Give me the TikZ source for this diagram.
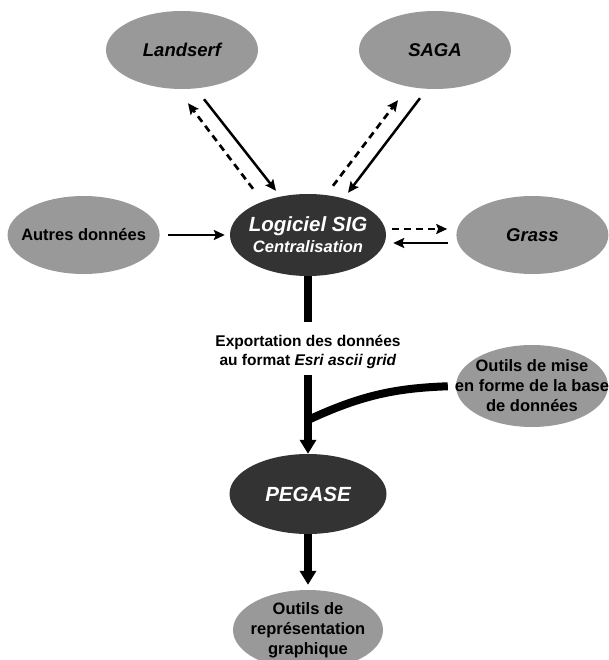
\documentclass[tikz,border=0pt]{standalone}
\usepackage{fontspec}
\setmainfont{Liberation Sans}
\usepackage{xcolor}
\usepackage{tikz}
\usetikzlibrary{arrows,arrows.meta,shapes.geometric,positioning}

\definecolor{gris}{HTML}{999999}
\definecolor{anthracite}{HTML}{333333}
\newcommand{\fnormal}{\fontsize{16.5}{20}\selectfont}
\newcommand{\fmoyen}{\fontsize{18.5}{22}\selectfont}
\newcommand{\fgrand}{\fontsize{20.5}{24}\selectfont}

\begin{document}
\begin{tikzpicture}[x=1pt,y=-1pt,>={Stealth[length=11pt,width=10pt,inset=2pt]},font=\bfseries\fnormal,
  clair/.style={ellipse,fill=gris,minimum width=152pt,minimum height=78pt,inner sep=0pt},
  sombre/.style={ellipse,fill=anthracite,minimum width=156pt,minimum height=82pt,inner sep=0pt},
  every label/.style={align=center},
  fleche/.style={line width=2.5pt},
  tirets/.style={line width=2.7pt,dash pattern=on 7pt off 5pt},
  epais/.style={line width=8pt},
  grosse/.style={line width=8pt,-{Triangle[width=16pt,length=14pt]}}]
  \clip (0,0) rectangle (609,660);

  % les logiciels
  \node[sombre,label={[white]center:{\fgrand\itshape Logiciel SIG}\\[1pt]{\itshape Centralisation}}] (sig) at (308,235) {};
  \node[clair,label={center:{\fmoyen\itshape Landserf}}] (lan) at (182,50) {};
  \node[clair,label={center:{\fmoyen\itshape SAGA}}] (saga) at (435,50) {};
  \node[clair,label={center:Autres données}] [left=70pt of sig] (autres) {};
  \node[clair,label={center:{\fmoyen\itshape Grass}}] [right=70pt of sig] (grass) {};

  \path[->] ([shift={(22,10)}]lan.south) edge[fleche] ([shift={(-32,-3)}]sig.north)
        ([shift={(-55,-5)}]sig.north) edge[tirets] ([shift={(6,14)}]lan.south)
        ([shift={(-15,9)}]saga.south) edge[fleche] ([shift={(40,-1)}]sig.north)
        ([shift={(25,-8)}]sig.north) edge[tirets] ([shift={(-37,11)}]saga.south)
        (autres) edge[fleche,shorten <=8pt,shorten >=5pt] (sig)
        ([shift={(6,-6)}]sig.east) edge[tirets] ([shift={(-9,-6)}]grass.west)
        ([shift={(-8,8)}]grass.west) edge[fleche] ([shift={(7,8)}]sig.east);

  % export vers PEGASE
  \node[align=center,font=\bfseries\fontsize{15.5}{19}\selectfont] (export) at (308,352) {Exportation des données\\au format \textit{Esri ascii grid}};
  \node[clair,minimum height=82pt,label={center:Outils de mise\\en forme de la base\\de données}] (mise) at (532,386) {};
  \node[sombre,minimum width=157pt,minimum height=80pt,label={[white]center:{\fgrand\itshape PEGASE}}] (peg) at (308,494) {};
  \node[clair,minimum width=150pt,minimum height=80pt,label={center:Outils de\\représentation\\graphique}] (rep) at (308,630) {};
  \coordinate (jonction) at (308,420);

  \draw[epais,shorten >=10pt] (sig) -- (export);
  \draw[grosse,shorten <=3pt] (export) -- (peg);
  \draw[epais,shorten <=8pt] (mise.west) to[out=182,in=25] (jonction);
  \draw[grosse,shorten >=5pt] (peg) -- (rep);
\end{tikzpicture}
\end{document}
